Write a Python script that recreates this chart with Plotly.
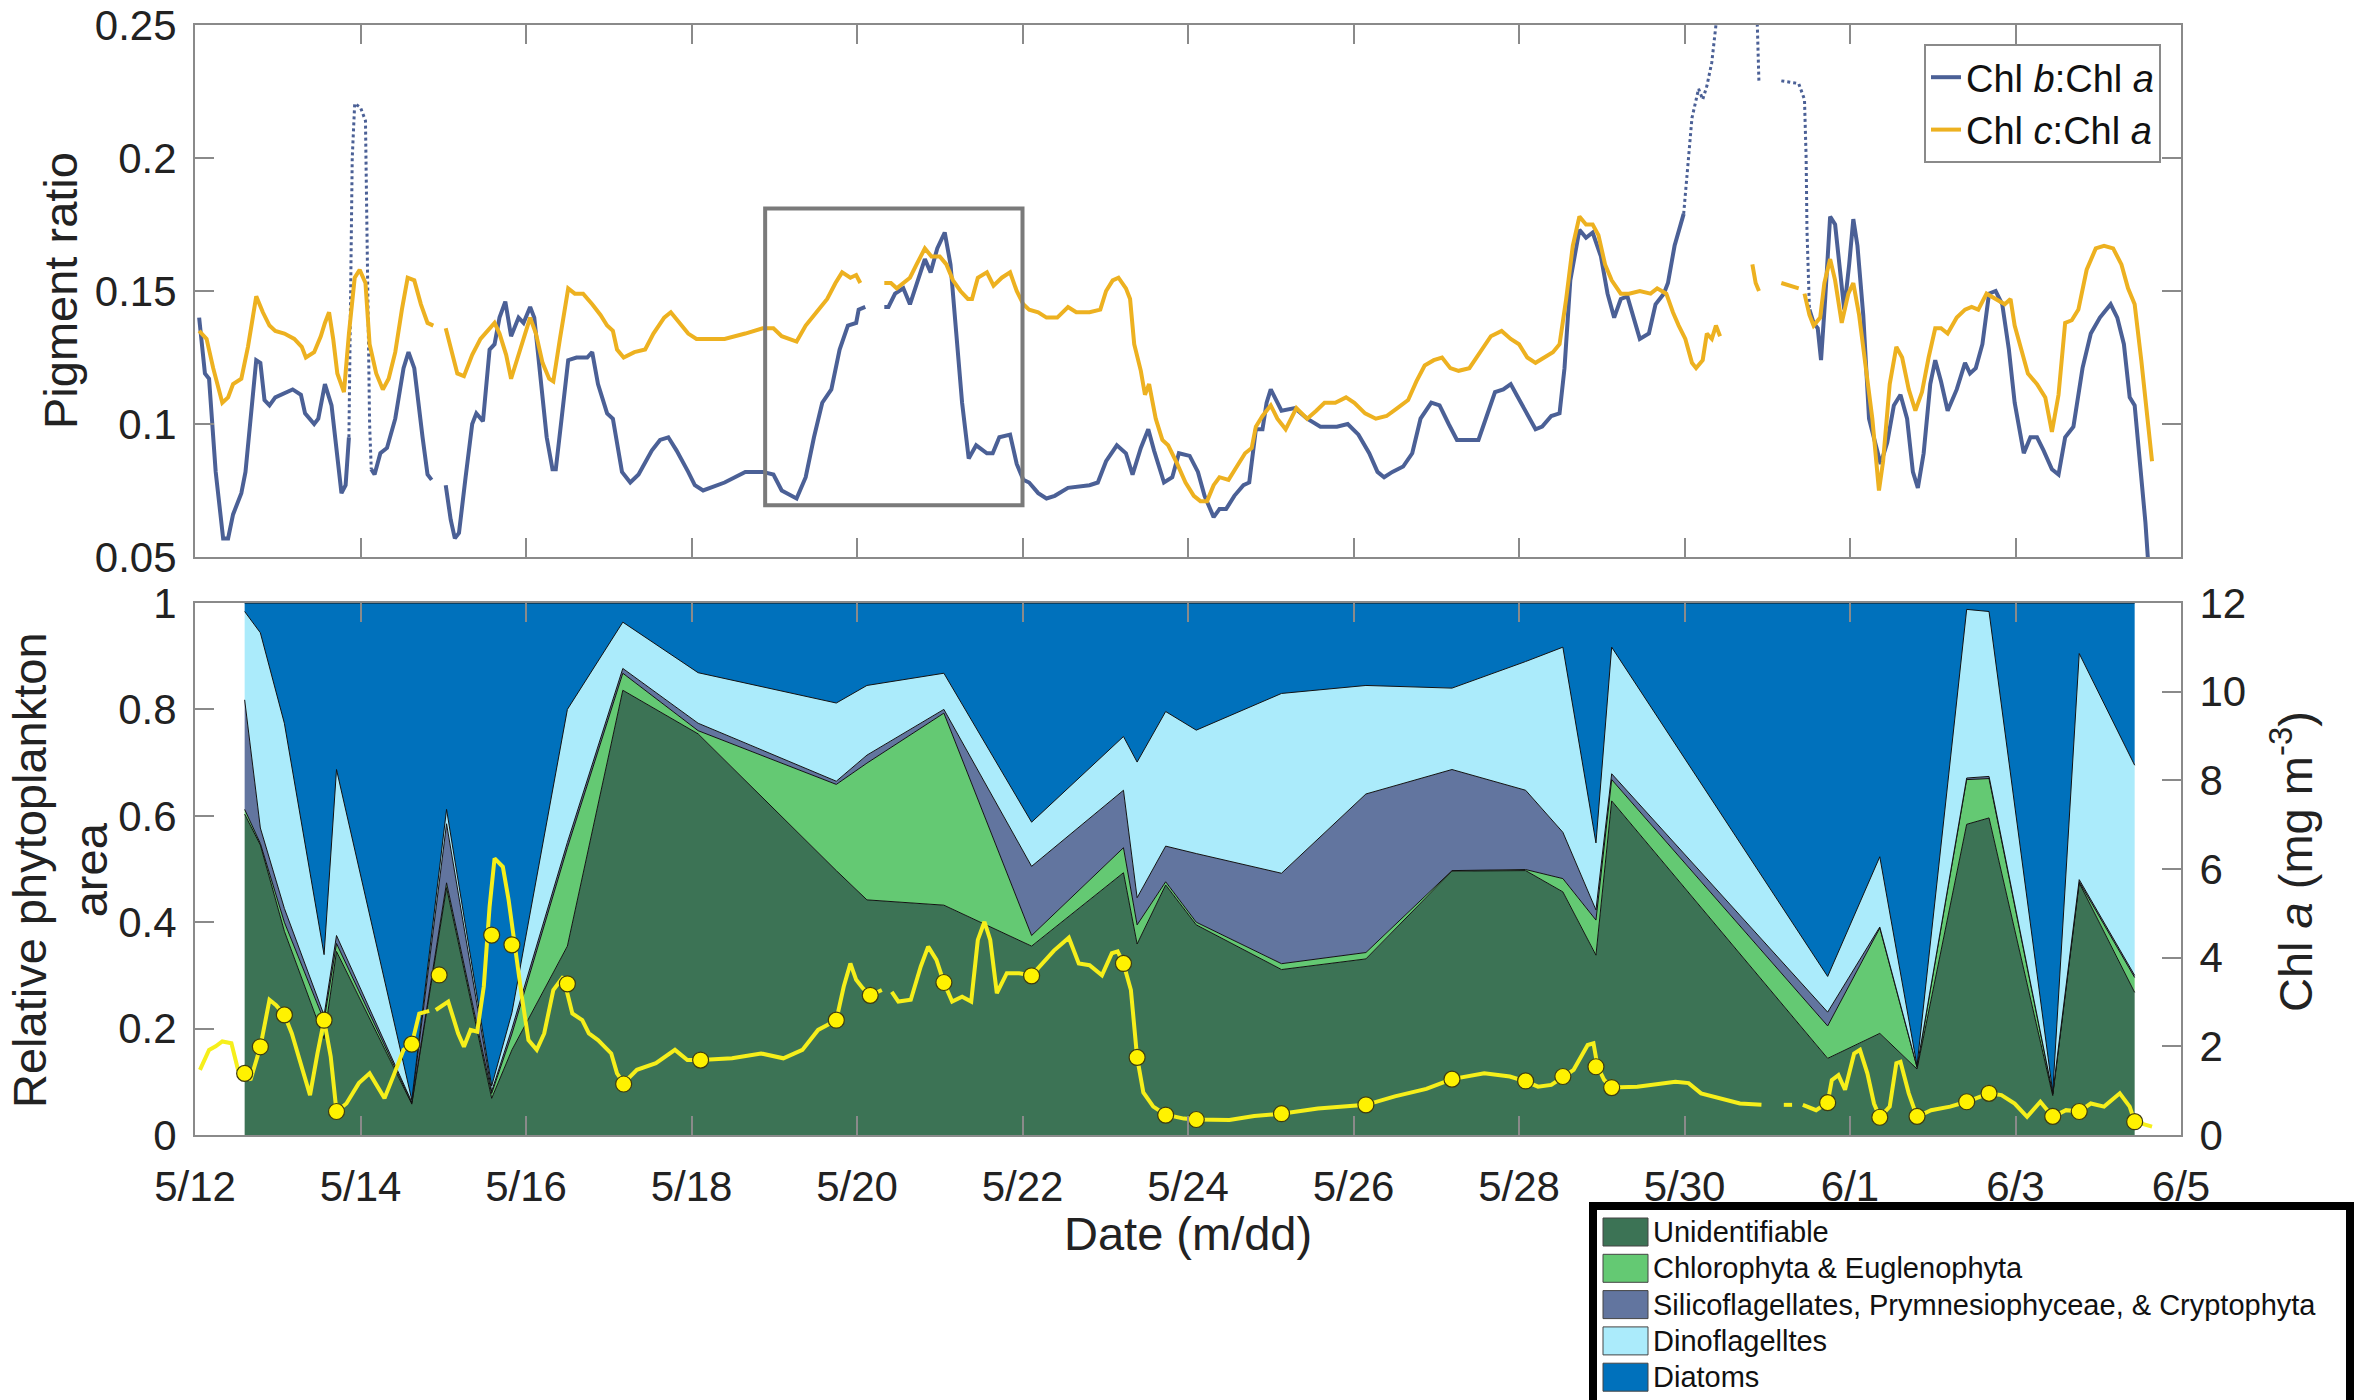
import plotly.graph_objects as go

FONT = "Liberation Sans, Arial, Helvetica, sans-serif"
GAP = (None, None)
W, H = 2366, 1400

# ---------------- axes / ticks ----------------
tick_days = [0, 2, 4, 6, 8, 10, 12, 14, 16, 18, 20, 22, 24]
tick_labels = ["5/12", "5/14", "5/16", "5/18", "5/20", "5/22", "5/24",
               "5/26", "5/28", "5/30", "6/1", "6/3", "6/5"]
ratio_ticks = [0.05, 0.1, 0.15, 0.2, 0.25]
ratio_labels = ["0.05", "0.1", "0.15", "0.2", "0.25"]
area_ticks = [0, 0.2, 0.4, 0.6, 0.8, 1]
area_labels = ["0", "0.2", "0.4", "0.6", "0.8", "1"]
chl_ticks = [0, 2, 4, 6, 8, 10, 12]

# highlighted window in the top panel (days since 5/12, ratio)
box_days = [6.89, 10.0]
box_ratio = [0.0695, 0.181]

# ---------------- top panel: Chl b : Chl a (day, ratio) ----------------
chl_b_main = [
    (0.05, 0.140), (0.12, 0.119), (0.17, 0.117), (0.25, 0.082), (0.34, 0.057), (0.40, 0.057),
    (0.46, 0.066), (0.56, 0.074), (0.61, 0.082), (0.69, 0.108), (0.74, 0.124), (0.79, 0.123),
    (0.84, 0.109), (0.90, 0.107), (0.97, 0.110), (1.18, 0.113), (1.28, 0.111), (1.33, 0.104),
    (1.44, 0.100), (1.49, 0.102), (1.57, 0.115), (1.65, 0.107), (1.77, 0.074), (1.82, 0.077),
    (1.86, 0.095), GAP,
    (2.13, 0.083), (2.17, 0.081), (2.24, 0.089), (2.32, 0.091), (2.42, 0.102), (2.52, 0.121),
    (2.58, 0.127), (2.65, 0.121), (2.75, 0.095), (2.81, 0.081), (2.86, 0.079), GAP,
    (3.03, 0.077), (3.09, 0.064), (3.14, 0.057), (3.19, 0.059), (3.27, 0.080), (3.35, 0.100),
    (3.40, 0.104), (3.48, 0.101), (3.56, 0.128), (3.62, 0.130), (3.68, 0.140), (3.75, 0.146),
    (3.82, 0.133), (3.91, 0.140), (3.97, 0.138), (4.05, 0.144), (4.10, 0.140), (4.18, 0.115),
    (4.25, 0.095), (4.32, 0.083), (4.36, 0.083), (4.43, 0.102), (4.51, 0.124), (4.61, 0.125),
    (4.74, 0.125), (4.80, 0.127), (4.87, 0.115), (4.92, 0.110), (4.98, 0.104), (5.05, 0.102),
    (5.16, 0.082), (5.26, 0.078), (5.36, 0.081), (5.52, 0.090), (5.62, 0.094), (5.72, 0.095),
    (5.82, 0.090), (5.96, 0.082), (6.04, 0.077), (6.14, 0.075), (6.40, 0.078), (6.65, 0.082),
    (6.86, 0.082), (6.99, 0.081), (7.09, 0.075), (7.27, 0.072), (7.38, 0.080), (7.48, 0.095),
    (7.58, 0.108), (7.69, 0.113), (7.79, 0.128), (7.89, 0.137), (7.99, 0.138), (8.02, 0.143),
    (8.10, 0.144), GAP,
    (8.33, 0.144), (8.38, 0.144), (8.46, 0.149), (8.56, 0.151), (8.64, 0.145), (8.72, 0.153),
    (8.82, 0.162), (8.89, 0.157), (8.97, 0.166), (9.06, 0.172), (9.13, 0.160), (9.20, 0.134),
    (9.27, 0.108), (9.35, 0.087), (9.44, 0.092), (9.57, 0.089), (9.64, 0.089), (9.72, 0.095),
    (9.85, 0.096), (9.93, 0.085), (10.01, 0.079), (10.08, 0.078), (10.19, 0.074), (10.29, 0.072),
    (10.39, 0.073), (10.55, 0.076), (10.81, 0.077), (10.91, 0.078), (11.01, 0.086), (11.14, 0.092),
    (11.25, 0.089), (11.33, 0.081), (11.43, 0.091), (11.52, 0.098), (11.59, 0.090), (11.71, 0.078),
    (11.81, 0.080), (11.89, 0.089), (12.02, 0.088), (12.12, 0.082), (12.20, 0.073), (12.31, 0.065),
    (12.38, 0.068), (12.46, 0.068), (12.56, 0.073), (12.67, 0.077), (12.74, 0.078), (12.82, 0.098),
    (12.90, 0.098), (12.95, 0.108), (13.00, 0.113), (13.13, 0.105), (13.29, 0.106), (13.44, 0.102),
    (13.60, 0.099), (13.80, 0.099), (13.93, 0.100), (14.06, 0.096), (14.19, 0.089), (14.29, 0.082),
    (14.37, 0.080), (14.47, 0.082), (14.60, 0.084), (14.71, 0.089), (14.81, 0.102), (14.94, 0.108),
    (15.04, 0.107), (15.15, 0.100), (15.25, 0.094), (15.38, 0.094), (15.51, 0.094), (15.61, 0.103),
    (15.71, 0.112), (15.81, 0.113), (15.90, 0.115), (15.97, 0.111), (16.10, 0.104), (16.20, 0.098),
    (16.28, 0.099), (16.39, 0.103), (16.49, 0.104), (16.55, 0.121), (16.62, 0.154), (16.73, 0.173),
    (16.81, 0.170), (16.89, 0.172), (16.99, 0.163), (17.07, 0.149), (17.15, 0.140), (17.23, 0.147),
    (17.31, 0.148), (17.38, 0.140), (17.46, 0.132), (17.57, 0.134), (17.65, 0.145), (17.75, 0.149),
    (17.80, 0.153), (17.88, 0.167), (17.99, 0.179), GAP,
    (19.51, 0.143), (19.56, 0.138), (19.61, 0.136), (19.65, 0.124), (19.70, 0.147), (19.76, 0.178),
    (19.82, 0.175), (19.87, 0.160), (19.93, 0.143), (19.99, 0.160), (20.04, 0.177), (20.09, 0.167),
    (20.16, 0.141), (20.23, 0.102), (20.32, 0.091), (20.37, 0.085), (20.45, 0.093), (20.53, 0.107),
    (20.61, 0.111), (20.69, 0.102), (20.76, 0.082), (20.82, 0.076), (20.89, 0.089), (20.97, 0.115),
    (21.03, 0.124), (21.10, 0.116), (21.18, 0.105), (21.29, 0.113), (21.39, 0.123), (21.45, 0.119),
    (21.52, 0.121), (21.60, 0.130), (21.68, 0.149), (21.76, 0.150), (21.84, 0.145), (21.92, 0.128),
    (21.99, 0.108), (22.10, 0.089), (22.18, 0.095), (22.26, 0.095), (22.34, 0.090), (22.44, 0.083),
    (22.52, 0.081), (22.60, 0.095), (22.70, 0.099), (22.81, 0.121), (22.91, 0.134), (23.02, 0.140),
    (23.15, 0.145), (23.23, 0.140), (23.31, 0.130), (23.38, 0.110), (23.44, 0.107), (23.52, 0.082),
    (23.57, 0.063), (23.61, 0.045),
]
# sparse (dotted-looking) stretches of the Chl b : Chl a record
chl_b_sparse = [
    (1.86, 0.095), (1.90, 0.200), (1.93, 0.2205), (2.00, 0.219), (2.06, 0.214), (2.09, 0.150),
    (2.11, 0.100), (2.13, 0.083), GAP,
    (17.99, 0.179), (18.04, 0.197), (18.09, 0.215), (18.17, 0.226), (18.22, 0.222), (18.27, 0.227),
    (18.33, 0.236), (18.38, 0.250), (18.45, 0.262), (18.80, 0.262), (18.88, 0.250), (18.90, 0.228), GAP,
    (19.17, 0.229), (19.38, 0.228), (19.45, 0.222), (19.47, 0.200), (19.48, 0.173), (19.51, 0.143),
]

# ---------------- top panel: Chl c : Chl a (day, ratio) ----------------
chl_c = [
    (0.05, 0.135), (0.14, 0.132), (0.22, 0.121), (0.33, 0.108), (0.40, 0.110), (0.46, 0.115),
    (0.56, 0.117), (0.64, 0.129), (0.74, 0.148), (0.82, 0.142), (0.90, 0.137), (0.97, 0.135),
    (1.08, 0.134), (1.20, 0.132), (1.29, 0.129), (1.34, 0.125), (1.44, 0.127), (1.52, 0.133),
    (1.57, 0.138), (1.62, 0.142), (1.67, 0.132), (1.72, 0.119), (1.80, 0.112), (1.86, 0.134),
    (1.93, 0.155), (1.99, 0.158), (2.06, 0.153), (2.11, 0.130), (2.19, 0.119), (2.27, 0.113),
    (2.34, 0.117), (2.42, 0.127), (2.50, 0.143), (2.57, 0.155), (2.65, 0.154), (2.73, 0.145),
    (2.81, 0.138), (2.88, 0.137), GAP,
    (3.03, 0.136), (3.10, 0.127), (3.17, 0.119), (3.25, 0.118), (3.35, 0.126), (3.45, 0.132),
    (3.56, 0.136), (3.62, 0.138), (3.68, 0.134), (3.76, 0.126), (3.82, 0.117), (3.89, 0.124),
    (3.97, 0.132), (4.05, 0.140), (4.12, 0.134), (4.20, 0.123), (4.28, 0.117), (4.33, 0.116),
    (4.41, 0.132), (4.51, 0.151), (4.59, 0.149), (4.69, 0.149), (4.80, 0.145), (4.90, 0.141),
    (4.98, 0.137), (5.05, 0.135), (5.10, 0.128), (5.18, 0.125), (5.31, 0.127), (5.44, 0.128),
    (5.54, 0.134), (5.67, 0.140), (5.75, 0.142), (5.85, 0.138), (5.96, 0.134), (6.06, 0.132),
    (6.14, 0.132), (6.40, 0.132), (6.65, 0.134), (6.86, 0.136), (6.99, 0.136), (7.09, 0.133),
    (7.27, 0.131), (7.38, 0.137), (7.51, 0.142), (7.64, 0.147), (7.74, 0.153), (7.82, 0.157),
    (7.92, 0.155), (7.99, 0.156), (8.04, 0.153), GAP,
    (8.33, 0.153), (8.41, 0.153), (8.48, 0.151), (8.56, 0.153), (8.64, 0.155), (8.72, 0.160),
    (8.82, 0.166), (8.90, 0.163), (9.00, 0.163), (9.08, 0.160), (9.16, 0.154), (9.25, 0.150),
    (9.34, 0.147), (9.39, 0.147), (9.46, 0.155), (9.57, 0.157), (9.65, 0.152), (9.75, 0.155),
    (9.85, 0.157), (9.93, 0.150), (10.01, 0.145), (10.08, 0.143), (10.19, 0.142), (10.29, 0.140),
    (10.42, 0.140), (10.55, 0.144), (10.65, 0.142), (10.81, 0.142), (10.94, 0.143), (11.01, 0.150),
    (11.09, 0.154), (11.16, 0.155), (11.25, 0.151), (11.30, 0.147), (11.35, 0.130), (11.43, 0.120),
    (11.48, 0.111), (11.53, 0.115), (11.61, 0.102), (11.69, 0.094), (11.76, 0.092), (11.87, 0.085),
    (11.97, 0.078), (12.07, 0.073), (12.15, 0.071), (12.23, 0.071), (12.31, 0.077), (12.38, 0.080),
    (12.49, 0.079), (12.59, 0.084), (12.69, 0.089), (12.77, 0.091), (12.82, 0.099), (12.90, 0.103),
    (13.00, 0.107), (13.08, 0.102), (13.18, 0.098), (13.31, 0.106), (13.44, 0.102), (13.55, 0.105),
    (13.65, 0.108), (13.78, 0.108), (13.91, 0.110), (14.01, 0.108), (14.14, 0.104), (14.27, 0.102),
    (14.40, 0.103), (14.53, 0.106), (14.66, 0.109), (14.76, 0.116), (14.86, 0.122), (14.97, 0.124),
    (15.07, 0.125), (15.17, 0.121), (15.27, 0.120), (15.40, 0.121), (15.53, 0.127), (15.66, 0.133),
    (15.79, 0.135), (15.90, 0.132), (16.00, 0.130), (16.10, 0.125), (16.20, 0.123), (16.31, 0.125),
    (16.41, 0.127), (16.49, 0.130), (16.57, 0.147), (16.65, 0.167), (16.73, 0.178), (16.81, 0.175),
    (16.89, 0.175), (16.96, 0.171), (17.04, 0.160), (17.12, 0.154), (17.23, 0.149), (17.33, 0.149),
    (17.46, 0.150), (17.59, 0.149), (17.67, 0.151), (17.78, 0.149), (17.86, 0.142), (17.93, 0.137),
    (18.01, 0.132), (18.09, 0.123), (18.14, 0.121), (18.22, 0.124), (18.27, 0.134), (18.33, 0.132),
    (18.38, 0.137), (18.43, 0.133), GAP,
    (18.82, 0.160), (18.86, 0.153), (18.90, 0.150), GAP,
    (19.17, 0.153), (19.27, 0.152), (19.38, 0.151), GAP,
    (19.45, 0.149), (19.51, 0.141), (19.56, 0.137), (19.64, 0.140), (19.69, 0.153), (19.76, 0.162),
    (19.82, 0.154), (19.90, 0.138), (19.98, 0.149), (20.04, 0.153), (20.11, 0.141), (20.19, 0.121),
    (20.27, 0.102), (20.35, 0.075), (20.40, 0.086), (20.48, 0.115), (20.56, 0.129), (20.63, 0.125),
    (20.71, 0.113), (20.79, 0.105), (20.87, 0.112), (20.95, 0.125), (21.03, 0.136), (21.10, 0.136),
    (21.18, 0.134), (21.29, 0.140), (21.39, 0.143), (21.47, 0.144), (21.55, 0.143), (21.65, 0.149),
    (21.76, 0.147), (21.87, 0.145), (21.94, 0.147), (21.99, 0.137), (22.07, 0.128), (22.15, 0.119),
    (22.26, 0.115), (22.36, 0.110), (22.44, 0.097), (22.52, 0.111), (22.60, 0.138), (22.68, 0.139),
    (22.76, 0.143), (22.86, 0.158), (22.97, 0.166), (23.07, 0.167), (23.18, 0.166), (23.28, 0.160),
    (23.36, 0.151), (23.44, 0.145), (23.52, 0.124), (23.59, 0.102), (23.65, 0.086),
]

# ---------------- bottom panel: relative phytoplankton area ----------------
sample_days = [0.60, 0.79, 1.08, 1.56, 1.71, 2.62, 3.04, 3.585, 3.83, 4.50, 5.17, 6.08,
               7.75, 8.12, 9.05, 10.11, 11.22, 11.385, 11.73, 12.10, 13.13, 14.15, 15.19,
               16.08, 16.53, 16.93, 17.12, 19.73, 20.36, 20.81, 21.41, 21.68, 22.45, 22.77, 23.44]
frac_unid = [0.603, 0.545, 0.383, 0.181, 0.345, 0.058, 0.465, 0.069, 0.160, 0.355, 0.836, 0.754,
             0.497, 0.442, 0.432, 0.355, 0.493, 0.359, 0.470, 0.395, 0.311, 0.331, 0.496,
             0.497, 0.457, 0.338, 0.628, 0.144, 0.191, 0.124, 0.584, 0.596, 0.074, 0.474, 0.268]
frac_chloro = [0.009, 0.003, 0.017, 0.034, 0.015, 0.002, 0.009, 0.009, 0.030, 0.185, 0.032, 0.006,
               0.162, 0.257, 0.361, 0.020, 0.047, 0.036, 0.006, 0.005, 0.011, 0.012, 0.001,
               0.002, 0.025, 0.066, 0.040, 0.061, 0.198, 0.003, 0.084, 0.074, 0.003, 0.002, 0.028]
frac_silico = [0.206, 0.029, 0.026, 0.010, 0.015, 0.002, 0.111, 0.004, 0.010, 0.010, 0.009, 0.014,
               0.006, 0.015, 0.007, 0.130, 0.108, 0.051, 0.067, 0.129, 0.170, 0.298, 0.190,
               0.149, 0.087, 0.019, 0.011, 0.026, 0.002, 0.001, 0.003, 0.004, 0.001, 0.004, 0.004]
frac_dino = [0.166, 0.367, 0.348, 0.114, 0.312, 0.004, 0.027, 0.010, 0.030, 0.250, 0.087, 0.095,
             0.147, 0.131, 0.068, 0.083, 0.101, 0.255, 0.253, 0.232, 0.338, 0.204, 0.153,
             0.242, 0.348, 0.126, 0.238, 0.067, 0.132, 0.002, 0.317, 0.310, 0.002, 0.425, 0.395]
frac_diatom = [0.016, 0.056, 0.226, 0.661, 0.313, 0.934, 0.388, 0.908, 0.770, 0.200, 0.036, 0.131,
               0.188, 0.155, 0.132, 0.412, 0.251, 0.299, 0.204, 0.239, 0.170, 0.155, 0.160,
               0.110, 0.083, 0.451, 0.083, 0.702, 0.477, 0.870, 0.012, 0.016, 0.920, 0.095, 0.305]
group_names = ["Unidentifiable", "Chlorophyta & Euglenophyta",
               "Silicoflagellates, Prymnesiophyceae, & Cryptophyta",
               "Dinoflagelltes", "Diatoms"]
group_colors = ["#3C7355", "#64C973", "#62759F", "#ABEBFB", "#0071BC"]

# ---------------- bottom panel: Chl a (day, mg m-3) ----------------
chl_a_line = [
    (0.06, 1.47), (0.17, 1.92), (0.25, 2.00), (0.33, 2.11), (0.44, 2.07), (0.52, 1.47), (0.60, 1.39),
    (0.67, 1.24), (0.79, 1.99), (0.90, 3.05), (0.98, 2.93), (1.08, 2.71), (1.17, 2.29), (1.29, 1.54),
    (1.39, 0.90), (1.48, 1.84), (1.56, 2.59), (1.64, 1.77), (1.71, 0.53), (1.83, 0.71), (1.98, 1.17),
    (2.11, 1.39), (2.21, 1.09), (2.29, 0.83), (2.41, 1.39), (2.52, 1.92), (2.62, 2.05), (2.71, 2.74),
    (2.83, 2.80), GAP,
    (2.91, 2.82), (3.06, 3.01), (3.18, 2.29), (3.25, 1.99), (3.33, 2.37), (3.41, 2.33), (3.49, 3.35),
    (3.56, 5.15), (3.62, 6.24), (3.72, 6.05), (3.79, 5.30), (3.87, 4.17), (3.95, 3.12), (4.03, 2.14),
    (4.13, 1.92), (4.22, 2.29), (4.33, 3.27), (4.45, 3.57), (4.56, 2.74), (4.68, 2.59), (4.76, 2.29),
    (4.87, 2.14), (5.03, 1.84), (5.10, 1.39), (5.18, 1.17), (5.34, 1.47), (5.57, 1.62), (5.80, 1.92),
    (5.95, 1.69), (6.11, 1.69), (6.49, 1.73), (6.84, 1.84), (7.11, 1.73), (7.34, 1.92), (7.53, 2.37),
    (7.75, 2.59), (7.84, 3.35), (7.92, 3.87), (7.99, 3.50), (8.07, 3.31), (8.16, 3.15), (8.30, 3.27), GAP,
    (8.42, 3.23), (8.50, 3.01), (8.65, 3.05), (8.77, 3.80), (8.86, 4.25), (8.96, 3.95), (9.05, 3.44),
    (9.15, 3.01), (9.27, 3.12), (9.38, 3.01), (9.46, 4.40), (9.54, 4.81), (9.61, 4.40), (9.69, 3.20),
    (9.81, 3.65), (9.96, 3.65), (10.11, 3.60), (10.27, 3.95), (10.38, 4.16), (10.56, 4.45), (10.68, 3.87),
    (10.81, 3.83), (10.96, 3.60), (11.08, 4.10), (11.15, 4.14), (11.22, 3.87), (11.31, 3.27),
    (11.385, 1.75), (11.46, 0.96), (11.58, 0.64), (11.73, 0.46), (11.95, 0.37), (12.10, 0.35),
    (12.50, 0.34), (12.80, 0.43), (13.13, 0.48), (13.57, 0.60), (14.15, 0.68), (14.50, 0.87),
    (14.88, 1.04), (15.19, 1.26), (15.58, 1.39), (15.89, 1.32), (16.08, 1.21), (16.23, 1.09),
    (16.39, 1.13), (16.53, 1.32), (16.66, 1.47), (16.83, 2.03), (16.90, 2.07), (16.95, 1.54),
    (17.03, 1.24), (17.12, 1.07), (17.43, 1.09), (17.89, 1.20), (18.05, 1.17), (18.20, 0.94),
    (18.43, 0.83), (18.67, 0.71), (18.93, 0.68), GAP,
    (19.20, 0.68), (19.30, 0.68), GAP,
    (19.43, 0.68), (19.59, 0.56), (19.73, 0.73), (19.78, 1.24), (19.86, 1.35), (19.94, 1.02),
    (20.05, 1.84), (20.12, 1.92), (20.21, 1.39), (20.29, 0.71), (20.36, 0.40), (20.48, 0.64),
    (20.56, 1.62), (20.61, 1.65), (20.71, 0.94), (20.81, 0.41), (20.98, 0.56), (21.21, 0.64),
    (21.41, 0.75), (21.68, 0.94), (21.83, 0.90), (21.99, 0.71), (22.14, 0.41), (22.30, 0.75),
    (22.45, 0.41), (22.61, 0.56), (22.77, 0.53), (22.91, 0.71), (23.07, 0.64), (23.26, 0.94),
    (23.38, 0.64), (23.44, 0.30), (23.65, 0.19),
]
marker_days = [0.60, 0.79, 1.08, 1.56, 1.71, 2.62, 2.95, 3.585, 3.83, 4.50, 5.18, 6.11, 7.75, 8.16,
               9.05, 10.11, 11.22, 11.385, 11.73, 12.10, 13.13, 14.15, 15.19, 16.08, 16.53, 16.93,
               17.12, 19.73, 20.36, 20.81, 21.41, 21.68, 22.45, 22.77, 23.44]
marker_chl = [1.39, 1.99, 2.71, 2.59, 0.53, 2.05, 3.61, 4.51, 4.29, 3.41, 1.15, 1.69, 2.59, 3.15,
              3.44, 3.59, 3.87, 1.75, 0.45, 0.35, 0.48, 0.68, 1.26, 1.22, 1.32, 1.54,
              1.07, 0.73, 0.40, 0.42, 0.75, 0.94, 0.42, 0.53, 0.30]


def unzip(pairs):
    return [p[0] for p in pairs], [p[1] for p in pairs]


def px_x(v):
    return v / W


def px_y(v):
    return 1 - v / H


BLUE_LINE = "#4B6096"
GOLD_LINE = "#EDB120"
AXIS_GRAY = "#8a8a8a"
TEXT = "#222222"

fig = go.Figure()

# top panel
bx, by = unzip(chl_b_main)
fig.add_trace(go.Scatter(x=bx, y=by, mode="lines", name="Chl <i>b</i>:Chl <i>a</i>",
                         line=dict(color=BLUE_LINE, width=4), xaxis="x", yaxis="y",
                         legend="legend", connectgaps=False))
sx, sy = unzip(chl_b_sparse)
fig.add_trace(go.Scatter(x=sx, y=sy, mode="lines", showlegend=False,
                         line=dict(color=BLUE_LINE, width=3, dash="dot"),
                         xaxis="x", yaxis="y", connectgaps=False))
cx, cy = unzip(chl_c)
fig.add_trace(go.Scatter(x=cx, y=cy, mode="lines", name="Chl <i>c</i>:Chl <i>a</i>",
                         line=dict(color=GOLD_LINE, width=4), xaxis="x", yaxis="y",
                         legend="legend", connectgaps=False))

# bottom panel stacked areas
for name, color, vals in zip(group_names, group_colors,
                             [frac_unid, frac_chloro, frac_silico, frac_dino, frac_diatom]):
    fig.add_trace(go.Scatter(x=sample_days, y=vals, mode="lines", name=name,
                             stackgroup="phyto", fillcolor=color, showlegend=False,
                             line=dict(color="#111111", width=1),
                             xaxis="x2", yaxis="y2"))

# Chl a line + sample markers (right axis)
ax, ay = unzip(chl_a_line)
fig.add_trace(go.Scatter(x=ax, y=ay, mode="lines", showlegend=False,
                         line=dict(color="#F6EF1B", width=4),
                         xaxis="x2", yaxis="y3", connectgaps=False))
fig.add_trace(go.Scatter(x=marker_days, y=marker_chl, mode="markers", showlegend=False,
                         marker=dict(color="#FFF200", size=16,
                                     line=dict(color="#3d3a10", width=1.2)),
                         xaxis="x2", yaxis="y3"))

X_DOM = [195 / W, 2181 / W]
TOP_DOM = [1 - 557 / H, 1 - 25 / H]
BOT_DOM = [1 - 1135 / H, 1 - 603 / H]

common_axis = dict(showline=True, linecolor=AXIS_GRAY, linewidth=2, ticks="inside",
                   ticklen=19, tickwidth=2, tickcolor=AXIS_GRAY, showgrid=False,
                   zeroline=False, automargin=False,
                   tickfont=dict(family=FONT, size=42, color=TEXT))

# ---- boxed key for the phytoplankton groups (drawn as shapes + text) ----
key_shapes = [dict(type="rect", xref="paper", yref="paper",
                   x0=px_x(1593), x1=px_x(2350), y0=px_y(1404), y1=px_y(1206),
                   line=dict(color="black", width=8), fillcolor="white", layer="above")]
key_texts = []
row_step = 36.3
for i, (name, color) in enumerate(zip(group_names, group_colors)):
    yc = 1232 + i * row_step
    key_shapes.append(dict(type="rect", xref="paper", yref="paper",
                           x0=px_x(1603), x1=px_x(1648), y0=px_y(yc + 14), y1=px_y(yc - 14),
                           line=dict(color="#444444", width=1), fillcolor=color, layer="above"))
    key_texts.append(dict(text=name, xref="paper", yref="paper", x=px_x(1651), y=px_y(yc),
                          xanchor="left", yanchor="middle", showarrow=False,
                          font=dict(family=FONT, size=29, color="#111")))

fig.update_layout(
    width=W, height=H,
    margin=dict(l=0, r=0, t=0, b=0, pad=0, autoexpand=False),
    paper_bgcolor="white", plot_bgcolor="white",
    font=dict(family=FONT, color=TEXT),
    xaxis=dict(domain=X_DOM, anchor="y", range=[0, 24], tickvals=tick_days,
               ticktext=tick_labels, showticklabels=False, mirror="ticks", **common_axis),
    yaxis=dict(domain=TOP_DOM, anchor="x", range=[0.05, 0.25], tickvals=ratio_ticks,
               ticktext=ratio_labels, mirror="ticks", ticklabelstandoff=8, **common_axis),
    xaxis2=dict(domain=X_DOM, anchor="y2", range=[0, 24], tickvals=tick_days,
                ticktext=tick_labels, mirror="ticks", ticklabelstandoff=14, **common_axis),
    yaxis2=dict(domain=BOT_DOM, anchor="x2", range=[0, 1], tickvals=area_ticks,
                ticktext=area_labels, mirror=False, ticklabelstandoff=8, **common_axis),
    yaxis3=dict(domain=BOT_DOM, anchor="x2", overlaying="y2", side="right", range=[0, 12],
                tickvals=chl_ticks, ticklabelstandoff=8, **common_axis),
    legend=dict(x=2161 / W, xanchor="right", y=1 - 44 / H, yanchor="top",
                bgcolor="white", bordercolor=AXIS_GRAY, borderwidth=2, traceorder="normal",
                font=dict(family=FONT, size=38, color="#111"), tracegroupgap=0),
    shapes=[dict(type="rect", xref="x", yref="y", x0=box_days[0], x1=box_days[1],
                 y0=box_ratio[0], y1=box_ratio[1], line=dict(color="#7a7a7a", width=4),
                 fillcolor="rgba(0,0,0,0)")] + key_shapes,
    annotations=[
        dict(text="Pigment ratio", xref="paper", yref="paper", x=60 / W, y=1 - 291 / H,
             textangle=-90, showarrow=False, font=dict(family=FONT, size=47, color=TEXT),
             xanchor="center", yanchor="middle"),
        dict(text="Relative phytoplankton<br>area", xref="paper", yref="paper",
             x=60 / W, y=1 - 870 / H, textangle=-90, showarrow=False,
             font=dict(family=FONT, size=47, color=TEXT), xanchor="center", yanchor="middle"),
        dict(text="Chl <i>a</i> (mg m<sup>-3</sup>)", xref="paper", yref="paper",
             x=2292 / W, y=1 - 862 / H, textangle=-90, showarrow=False,
             font=dict(family=FONT, size=47, color=TEXT), xanchor="center", yanchor="middle"),
        dict(text="Date (m/dd)", xref="paper", yref="paper", x=1188 / W, y=1 - 1233 / H,
             showarrow=False, font=dict(family=FONT, size=47, color=TEXT),
             xanchor="center", yanchor="middle"),
    ] + key_texts,
)

fig.write_html("out.html")
